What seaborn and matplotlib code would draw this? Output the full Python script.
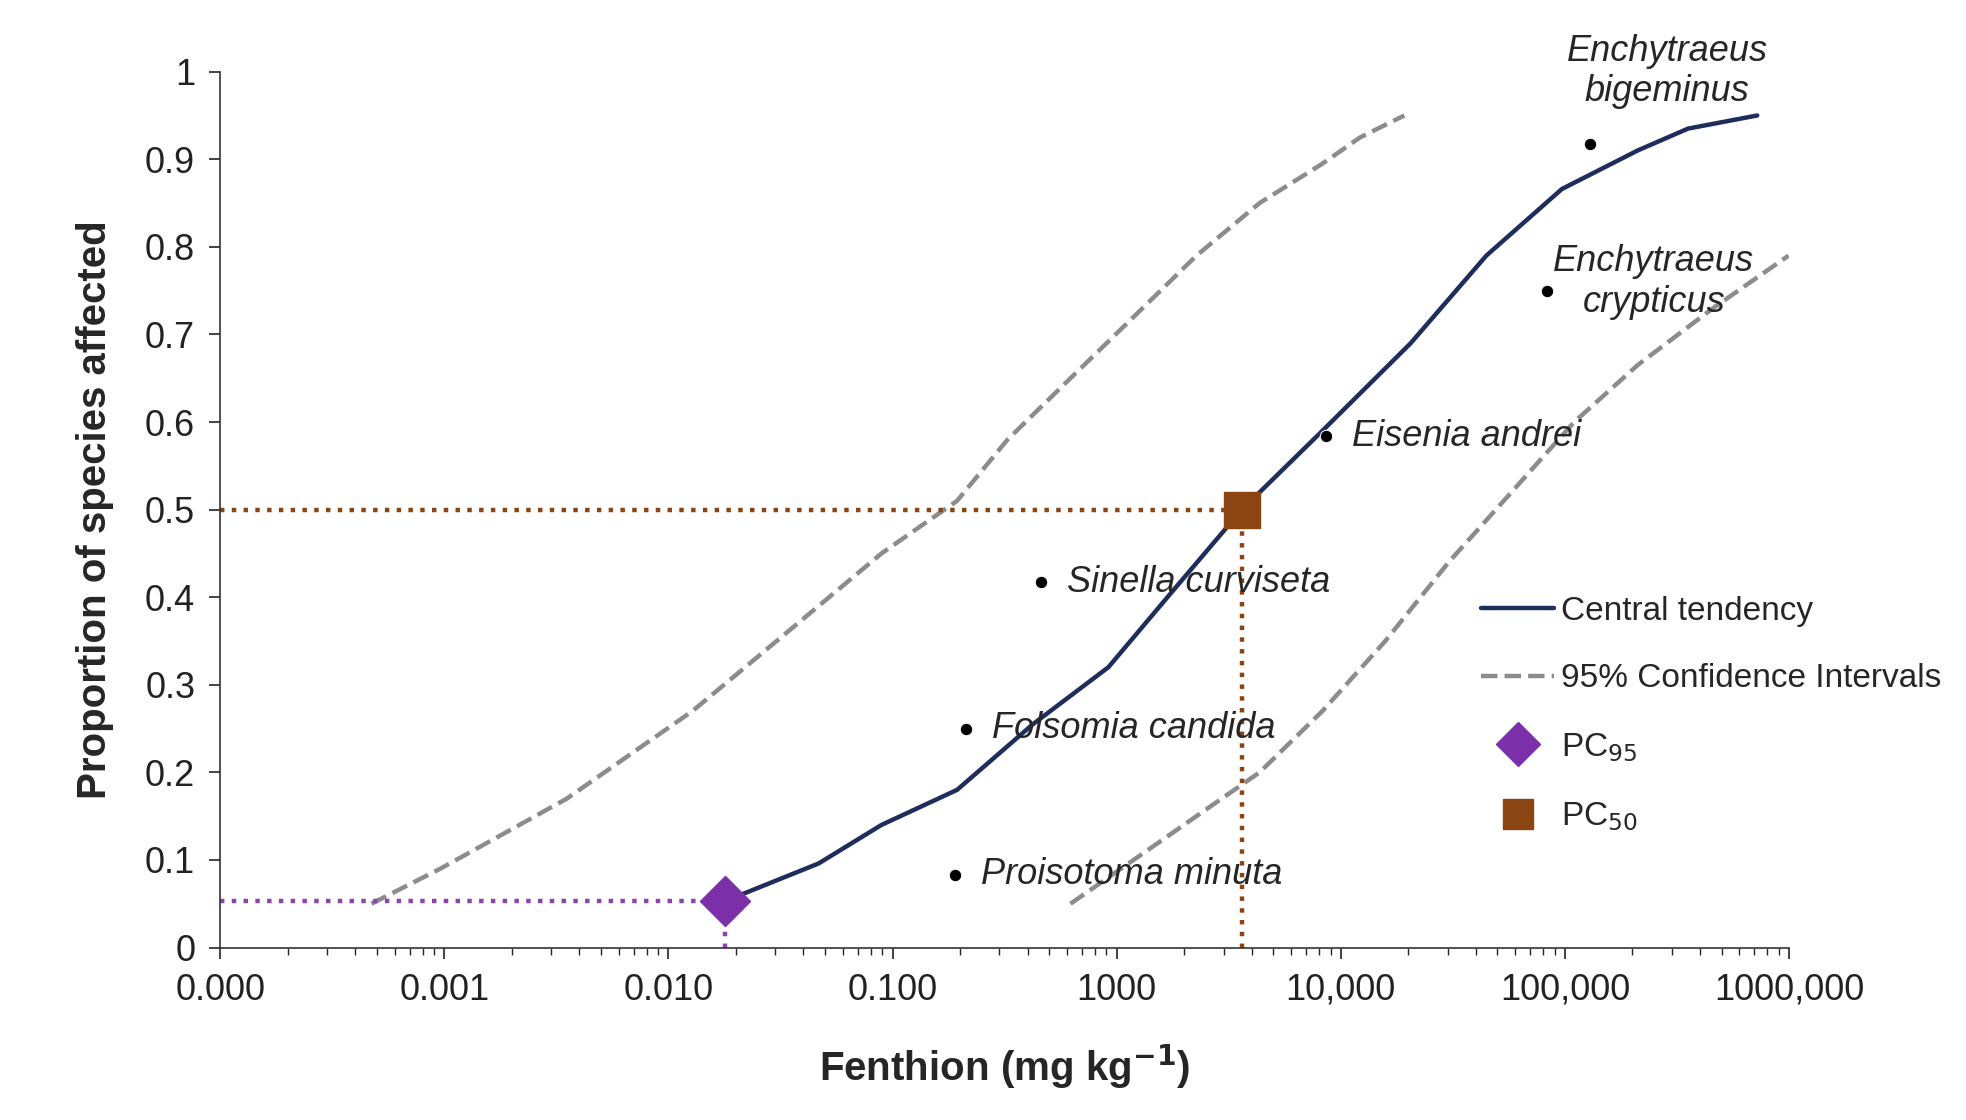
import numpy as np
import matplotlib
matplotlib.use('Agg')
import matplotlib.pyplot as plt
import seaborn as sns
from matplotlib.lines import Line2D
from matplotlib.ticker import FixedLocator, LogLocator, NullFormatter

# Data (x in mg/kg, y proportion)
central_x = [0.0179, 0.0468, 0.0893, 0.194, 0.423, 0.918, 1.75, 3.62, 8.28, 20.5, 44.6, 96.9, 211, 354, 721]
central_y = [0.053, 0.096, 0.14, 0.18, 0.255, 0.32, 0.405, 0.50, 0.59, 0.69, 0.79, 0.866, 0.91, 0.935, 0.95]
lower_ci_x = [0.000473, 0.00096, 0.00184, 0.00352, 0.00671, 0.0128, 0.0245, 0.0468, 0.0893,
              0.194, 0.326, 0.622, 1.19, 2.27, 4.34, 8.28, 12.2, 19.2]
lower_ci_y = [0.05, 0.09, 0.13, 0.17, 0.22, 0.27, 0.33, 0.39, 0.45,
              0.51, 0.58, 0.65, 0.72, 0.79, 0.85, 0.895, 0.925, 0.95]
upper_ci_x = [0.622, 1.19, 2.27, 4.34, 8.28, 15.8, 30.3, 57.8, 110, 211, 458, 995]
upper_ci_y = [0.05, 0.10, 0.15, 0.20, 0.27, 0.35, 0.44, 0.52, 0.60, 0.665, 0.73, 0.79]
species = ['Proisotoma minuta', 'Folsomia candida', 'Sinella curviseta',
           'Eisenia andrei', 'Enchytraeus\ncrypticus', 'Enchytraeus\nbigeminus']
species_x = [0.19, 0.213, 0.46, 8.6, 83, 130]
species_y = [0.083, 0.25, 0.417, 0.584, 0.75, 0.917]
pc95 = (0.0179, 0.053)
pc50 = (3.62, 0.50)
x_ticks = [1e-4, 1e-3, 1e-2, 1e-1, 1, 10, 100, 1000]
x_labels = ['0.000', '0.001', '0.010', '0.100', '1000', '10,000', '100,000', '1000,000']

sns.set_style('white')
plt.rcParams['font.family'] = ['Liberation Sans', 'DejaVu Sans']

fig = plt.figure(figsize=(19.66, 11.2), dpi=100)
ax = fig.add_axes([0.112, 0.154, 0.798, 0.782])

sns.lineplot(x=central_x, y=central_y, ax=ax, color='#1f2d5c', lw=3.2, sort=False)
sns.lineplot(x=lower_ci_x, y=lower_ci_y, ax=ax, color='#8c8c8c', lw=3.2, ls='--', sort=False)
sns.lineplot(x=upper_ci_x, y=upper_ci_y, ax=ax, color='#8c8c8c', lw=3.2, ls='--', sort=False)

# dotted guides
ax.plot([1e-4, pc50[0]], [pc50[1], pc50[1]], ls=':', color='#8b4513', lw=3.2)
ax.plot([pc50[0], pc50[0]], [0, pc50[1]], ls=':', color='#8b4513', lw=3.2)
ax.plot([1e-4, pc95[0]], [pc95[1], pc95[1]], ls=':', color='#8e44ad', lw=3.2)
ax.plot([pc95[0], pc95[0]], [0, pc95[1]], ls=':', color='#8e44ad', lw=3.2)

sns.scatterplot(x=species_x, y=species_y, ax=ax, color='black', s=80, zorder=5)
for name, xv, yv in zip(species, species_x, species_y):
    if name.endswith('crypticus'):
        ax.text(xv * 3.0, yv + 0.01, name, fontsize=26, style='italic', ha='center', va='center')
    elif name.endswith('bigeminus'):
        ax.text(xv * 2.2, yv + 0.04, name, fontsize=26, style='italic', ha='center', va='bottom')
    else:
        ax.text(xv * 1.3, yv, name, fontsize=26, style='italic', ha='left', va='center')

ax.scatter([pc95[0]], [pc95[1]], marker='D', s=650, color='#7b2fa8', zorder=6)
ax.scatter([pc50[0]], [pc50[1]], marker='s', s=650, color='#8b4513', zorder=6)

ax.set_xscale('log')
ax.set_xlim(1e-4, 1000)
ax.set_ylim(0, 1)
ax.xaxis.set_major_locator(FixedLocator(x_ticks))
ax.set_xticklabels(x_labels)
ax.xaxis.set_minor_locator(LogLocator(base=10, subs=np.arange(2, 10)))
ax.xaxis.set_minor_formatter(NullFormatter())
ax.set_yticks(np.arange(0, 1.01, 0.1))
ax.set_yticklabels(['0', '0.1', '0.2', '0.3', '0.4', '0.5', '0.6', '0.7', '0.8', '0.9', '1'])
ax.tick_params(axis='both', which='major', labelsize=26, direction='out', length=8, width=1.2,
               bottom=True, left=True, colors='#222222', pad=10)
ax.tick_params(axis='x', which='minor', direction='out', length=5, width=1, bottom=True)
for s in ['top', 'right']:
    ax.spines[s].set_visible(False)
for s in ['left', 'bottom']:
    ax.spines[s].set_color('#333333')
    ax.spines[s].set_linewidth(1.2)

ax.set_xlabel('Fenthion (mg kg$^{\\mathbf{-1}}$)', fontsize=29, fontweight='bold', labelpad=25)
ax.set_ylabel('Proportion of species affected', fontsize=29, fontweight='bold', labelpad=22)

handles = [Line2D([], [], color='#1f2d5c', lw=3.2),
           Line2D([], [], color='#8c8c8c', lw=3.2, ls='--'),
           Line2D([], [], marker='D', color='#7b2fa8', ls='', markersize=22),
           Line2D([], [], marker='s', color='#8b4513', ls='', markersize=22)]
labels = ['Central tendency', '95% Confidence Intervals', 'PC$_{95}$', 'PC$_{50}$']
fig.legend(handles, labels, loc='upper left', bbox_to_anchor=(0.738, 0.495), frameon=False,
           fontsize=24, handlelength=2.2, handletextpad=0.2, labelspacing=1.1)

fig.savefig('out.png', dpi=100)
